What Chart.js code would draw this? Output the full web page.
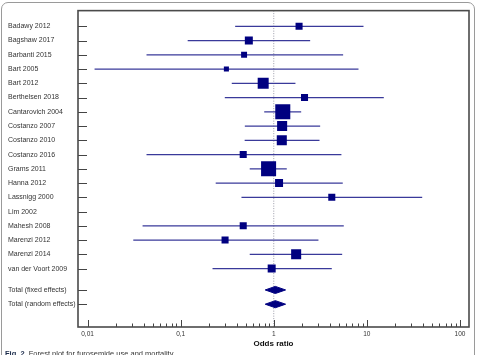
<!DOCTYPE html>
<html>
<head>
<meta charset="utf-8">
<script src="https://cdn.jsdelivr.net/npm/chart.js@4.4.1/dist/chart.umd.min.js"></script>
<style>
  html, body { margin: 0; padding: 0; background: #fff; }
  #wrap { position: relative; width: 482px; height: 355px; overflow: hidden; font-family: "Liberation Sans", Arial, sans-serif; }
  #frame { position: absolute; left: 1px; top: 2px; width: 472px; height: 400px; border: 1px solid #9a9a9a; border-radius: 7px; pointer-events: none; }
  #chart { position: absolute; left: 0; top: 0; }
  #caption { position: absolute; left: 5px; top: 349px; font-size: 7.5px; color: #333; white-space: nowrap; }
  #caption b { color: #1a2a4a; }
</style>
</head>
<body>
<div id="wrap">
  <canvas id="chart" width="482" height="355"></canvas>
  <div id="frame"></div>
  <div id="caption"><b>Fig. 2</b>&nbsp; Forest plot for furosemide use and mortality</div>
</div>
<script>
// Forest plot data (odds ratios)
const studies = ['Badawy 2012', 'Bagshaw 2017', 'Barbanti 2015', 'Bart 2005', 'Bart 2012',
  'Berthelsen 2018', 'Cantarovich 2004', 'Costanzo 2007', 'Costanzo 2010', 'Costanzo 2016',
  'Grams 2011', 'Hanna 2012', 'Lassnigg 2000', 'Lim 2002', 'Mahesh 2008', 'Marenzi 2012',
  'Marenzi 2014', 'van der Voort 2009'];
const oddsRatio = [1.87, 0.54, 0.48, 0.31, 0.77, 2.14, 1.25, 1.23, 1.22, 0.47, 0.88, 1.14, 4.2, null, 0.47, 0.30, 1.74, 0.95];
const ciLower = [0.385, 0.119, 0.043, 0.0119, 0.354, 0.298, 0.79, 0.489, 0.487, 0.043, 0.552, 0.238, 0.45, null, 0.039, 0.031, 0.552, 0.22];
const ciUpper = [9.2, 2.46, 5.56, 8.13, 1.71, 15.2, 1.97, 3.15, 3.1, 5.33, 1.38, 5.51, 39.3, null, 5.65, 3.02, 5.43, 4.2];
const weights = [3.5, 4.5, 2.5, 1.8, 8.5, 3.5, 15.9, 7.1, 7.1, 3.5, 15.9, 4.5, 3.5, 0, 3.5, 3.5, 7.1, 4.5];

const totals = ['Total (fixed effects)', 'Total (random effects)'];
const totalOR = [1.04, 1.04];
const totalLower = [0.81, 0.81];
const totalUpper = [1.34, 1.34];

const rowPos = [0, 1, 2, 3, 4, 5, 6, 7, 8, 9, 10, 11, 12, 13, 14, 15, 16, 17, 18.5, 19.5];
const rowLabels = studies.concat(totals);

const xTicks = [0.01, 0.1, 1, 10, 100];
const xTickLabels = ['0,01', '0,1', '1', '10', '100'];

const navy = '#000080';
const ciColor = '#3a3a9a';

// build datasets
const squares = [];
const squareRadius = [];
const ciLines = [];
studies.forEach((s, i) => {
  if (oddsRatio[i] === null) return;
  squares.push({ x: oddsRatio[i], y: rowPos[i] });
  squareRadius.push(3.77 * Math.sqrt(weights[i]) / Math.SQRT2);
  ciLines.push({ x: ciLower[i], y: rowPos[i] });
  ciLines.push({ x: ciUpper[i], y: rowPos[i] });
  ciLines.push({ x: 1, y: null });
});

function diamond(i) {
  const y = rowPos[studies.length + i];
  const h = 0.25;
  return [
    { x: totalLower[i], y: y },
    { x: totalOR[i], y: y - h },
    { x: totalUpper[i], y: y },
    { x: totalOR[i], y: y + h },
    { x: totalLower[i], y: y }
  ];
}

const minorTicks = [];
for (let d = -2; d <= 2; d++) {
  const base = Math.pow(10, d);
  if (d === 2) { minorTicks.push(100); break; }
  for (let k = 1; k <= 9; k++) minorTicks.push(+(base * k).toPrecision(3));
}

const innerTicks = {
  id: 'innerTicks',
  afterDraw(chart) {
    const { ctx, chartArea: a, scales } = chart;
    ctx.save();
    ctx.strokeStyle = '#444';
    ctx.lineWidth = 1;
    rowPos.forEach(v => {
      const y = Math.round(scales.y.getPixelForValue(v)) + 0.5;
      ctx.beginPath();
      ctx.moveTo(a.left, y);
      ctx.lineTo(a.left + 9, y);
      ctx.stroke();
    });
    minorTicks.forEach(v => {
      const x = Math.round(scales.x.getPixelForValue(v)) + 0.5;
      const isMajor = xTicks.includes(v);
      ctx.beginPath();
      ctx.moveTo(x, a.bottom);
      ctx.lineTo(x, a.bottom - (isMajor ? 7 : 3.5));
      ctx.stroke();
    });
    ctx.strokeStyle = '#4a4a4a';
    ctx.lineWidth = 1.6;
    ctx.strokeRect(a.left, a.top, a.right - a.left, a.bottom - a.top);
    ctx.restore();
  }
};

new Chart(document.getElementById('chart'), {
  type: 'scatter',
  data: {
    datasets: [
      {
        data: squares,
        pointStyle: 'rect',
        pointRadius: squareRadius,
        pointBackgroundColor: navy,
        pointBorderWidth: 0,
        showLine: false
      },
      {
        data: diamond(0),
        showLine: true,
        borderColor: navy,
        borderWidth: 1,
        backgroundColor: navy,
        fill: 'shape',
        pointRadius: 0
      },
      {
        data: diamond(1),
        showLine: true,
        borderColor: navy,
        borderWidth: 1,
        backgroundColor: navy,
        fill: 'shape',
        pointRadius: 0
      },
      {
        data: ciLines,
        showLine: true,
        spanGaps: false,
        borderColor: ciColor,
        borderWidth: 1.3,
        pointRadius: 0
      },
      {
        data: [{ x: 1, y: -1.1 }, { x: 1, y: 21.1 }],
        showLine: true,
        borderColor: '#9a9aa8',
        borderWidth: 1,
        borderDash: [1, 1.5],
        pointRadius: 0
      }
    ]
  },
  options: {
    responsive: false,
    animation: false,
    layout: { padding: { left: 8, top: 9, right: 13, bottom: 6 } },
    plugins: { legend: { display: false }, tooltip: { enabled: false } },
    scales: {
      x: {
        type: 'logarithmic',
        min: 0.0079,
        max: 125,
        afterBuildTicks: scale => { scale.ticks = xTicks.map(v => ({ value: v })); },
        afterFit: scale => { scale.height = 22; },
        grid: { display: false, drawTicks: false },
        border: { display: false },
        ticks: {
          autoSkip: false,
          maxRotation: 0,
          padding: 3,
          color: '#333',
          font: { family: 'Liberation Sans', size: 6.5 },
          callback: (v, i) => xTickLabels[i]
        },
        title: {
          display: true,
          text: 'Odds ratio',
          color: '#111',
          padding: { top: 2, bottom: 0 },
          font: { family: 'Liberation Sans', size: 8, weight: 'bold' }
        }
      },
      y: {
        type: 'linear',
        reverse: true,
        min: -1.1,
        max: 21.1,
        afterBuildTicks: scale => { scale.ticks = rowPos.map(v => ({ value: v })); },
        afterFit: scale => { scale.width = 70; },
        grid: { display: false, drawTicks: false },
        border: { display: false },
        ticks: {
          autoSkip: false,
          crossAlign: 'far',
          padding: 0,
          color: '#333',
          font: { family: 'Liberation Sans', size: 7 },
          callback: (v, i) => rowLabels[i]
        }
      }
    }
  },
  plugins: [innerTicks]
});
</script>
</body>
</html>
